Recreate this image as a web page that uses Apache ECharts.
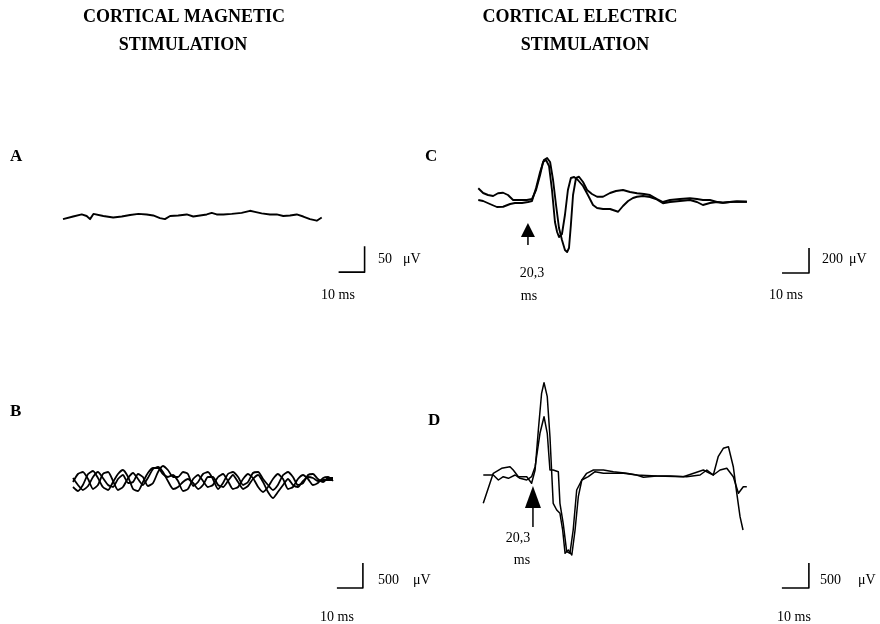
<!DOCTYPE html>
<html><head><meta charset="utf-8">
<script src="https://cdn.jsdelivr.net/npm/echarts/dist/echarts.min.js"></script>
<style>html,body{margin:0;padding:0;background:#fff}#c{width:880px;height:624px}</style>
</head><body><div id="c"></div>
<script>
// ---- Panel A: cortical magnetic, single sweep (ms, µV)
var A_T = [0, 3.9, 7.2, 9.1, 10.4, 11.7, 15.5, 19.3, 22.6, 25.8, 29.0, 32.2, 34.7, 37.3, 39.2, 41.2, 44.3, 47.6, 50.1, 52.7, 55.3, 57.2, 59.1, 61.7, 64.9, 68.7, 71.9, 73.8, 76.4, 79.6, 82.2, 84.7, 87.3, 89.9, 92.4, 95.0, 97.6, 99.5];
var A_V = [-6, -1, 3, 0, -6, 4, 0, -3, -1, 2, 4, 3, 1, -4, -6, 0, 1, 3, -1, 1, 3, 6, 3, 3, 4, 6, 10, 8, 5, 3, 3, 0, 1, 3, -1, -6, -9, -3];

// ---- Panel B: cortical magnetic, three sweeps
var B_T = [0, 1.9, 3.8, 5.8, 7.7, 9.6, 11.5, 13.5, 15.4, 17.3, 19.2, 21.2, 23.1, 25.0, 26.9, 28.8, 30.8, 32.7, 34.6, 36.5, 38.5, 40.4, 42.3, 44.2, 46.2, 48.1, 50.0, 51.9, 53.8, 55.8, 57.7, 59.6, 61.5, 63.5, 65.4, 67.3, 69.2, 71.2, 73.1, 75.0, 76.9, 78.8, 80.8, 82.7, 84.6, 86.5, 88.5, 90.4, 92.3, 94.2, 96.2, 98.1, 100.0];
var B_V1 = [0, 160, 200, 60, -140, -60, 160, 200, 20, -160, -100, 80, 180, 60, -60, 80, 260, 300, 200, 20, -140, -100, 0, 60, -20, -140, -60, 100, 100, -60, -100, 20, 140, 0, -140, -80, 60, 140, 0, -200, -320, -200, -60, 60, -60, -100, 20, 100, 80, 20, 40, 40, 40];
var B_V2 = [-100, -180, -60, 160, 220, 80, -100, -160, 0, 160, 240, 100, -140, -180, 0, 180, 280, 280, 160, 100, 140, 20, -180, -140, 60, 140, 20, -100, -60, 100, 160, 20, -140, -100, 60, 160, 80, -100, -200, -100, 60, 160, 60, -140, -100, 60, 140, 60, -60, -20, 80, 100, 20];
var B_V3 = [80, -60, -160, -80, 100, 200, 80, -60, -100, 60, 140, -20, 0, 160, 100, -80, -20, 200, 320, 240, 100, 100, 200, 160, -80, 0, 160, 200, 60, -140, -20, 160, 200, 100, -60, 0, 180, 200, 60, -60, -160, -60, 140, 200, 100, -60, -20, 140, 160, 60, 0, 80, 80];

// ---- Panel C: cortical electric, two sweeps
var C_T1 = [0.1, 1.9, 3.7, 5.6, 7.4, 9.3, 11.1, 13.0, 15.6, 18.1, 20.0, 21.5, 23.0, 24.1, 25.2, 26.3, 27.4, 28.5, 29.3, 30.0, 31.1, 32.2, 33.3, 34.4, 35.6, 37.0, 38.9, 40.7, 42.6, 44.1, 46.3, 48.9, 51.9, 53.7, 55.6, 57.4, 58.9, 61.1, 63.7, 65.9, 68.5, 71.1, 74.8, 78.5, 81.1, 83.3, 85.9, 88.5, 90.7, 93.3, 95.9, 99.6];
var C_V1 = [118, 80, 64, 56, 78, 82, 64, 24, 24, 24, 32, 104, 224, 328, 344, 296, 104, -152, -232, -272, -248, -96, 104, 200, 208, 184, 136, 64, -16, -40, -48, -48, -70, -24, 16, 40, 50, 56, 48, 32, -2, 8, 16, 24, 8, -16, 0, 8, 2, 8, 12, 10];
var C_T2 = [0.1, 1.9, 4.4, 7.0, 9.3, 11.9, 13.7, 16.3, 18.5, 20.0, 21.5, 23.0, 24.4, 25.6, 26.7, 27.8, 28.9, 30.0, 31.1, 32.2, 33.0, 33.7, 34.4, 35.2, 36.3, 37.4, 38.9, 40.4, 42.2, 44.1, 46.3, 48.9, 51.1, 53.7, 56.3, 58.9, 61.5, 63.7, 66.3, 68.5, 71.1, 74.8, 78.5, 81.1, 83.3, 85.9, 88.5, 90.7, 93.3, 95.9, 99.6];
var C_V2 = [24, 16, -8, -32, -30, -8, 0, 0, 8, 16, 120, 248, 344, 360, 328, 184, -16, -200, -296, -376, -392, -360, -176, 64, 200, 210, 168, 104, 72, 50, 50, 80, 96, 104, 88, 78, 72, 64, 32, 8, 24, 32, 38, 32, 24, 24, 8, 2, 8, 12, 10];

// ---- Panel D: cortical electric, two sweeps
var D_T1 = [0.1, 3.8, 6.9, 10.0, 11.2, 13.1, 16.2, 18.0, 19.3, 20.5, 21.7, 22.6, 23.8, 24.8, 25.4, 26.0, 27.3, 28.5, 29.5, 30.4, 31.6, 32.9, 34.1, 35.3, 36.6, 38.4, 40.9, 44.6, 48.3, 53.2, 56.9, 59.4, 64.3, 69.3, 75.4, 80.4, 82.9, 85.3, 87.1, 89.0, 90.9, 92.7, 94.0, 95.2, 96.3];
var D_V1 = [-546, 54, 154, 186, 120, -14, -14, -146, 120, 920, 1654, 1866, 1586, 786, 120, -546, -680, -746, -1080, -1546, -1480, -1580, -1080, -414, -80, 54, 120, 120, 86, 54, 20, -26, 0, 0, -14, 20, 120, 20, 386, 554, 586, 186, -346, -814, -1080];
var D_T2 = [0.1, 3.8, 5.7, 7.5, 9.4, 11.9, 13.7, 16.2, 18.0, 19.3, 21.1, 22.6, 23.8, 24.8, 26.0, 27.9, 28.5, 29.7, 31.0, 32.2, 33.4, 34.7, 36.6, 39.0, 41.5, 44.6, 48.3, 52.0, 56.9, 64.3, 74.2, 81.6, 85.3, 87.8, 90.3, 92.7, 94.6, 96.4, 97.7];
var D_V2 = [20, 20, -80, -14, -46, 20, -46, -80, -14, 186, 854, 1186, 854, 120, 120, 86, -546, -946, -1514, -1546, -1080, -280, -80, -14, 86, 54, 54, 54, 20, 0, -14, 120, 20, 120, 154, -14, -346, -214, -214];

// ---- Calibration bars and labels
var SCALE_MS = 10;
var SCALE_UV_A = 50, SCALE_UV_B = 500, SCALE_UV_C = 200, SCALE_UV_D = 500;
var LATENCY_LABEL = '20,3';
var ARROW_T = 18.5;

function pairs(t, v) { return t.map(function (x, i) { return [x, v[i]]; }); }
function bar(o, uv) { return [[o[0], o[1]], [o[0] + SCALE_MS, o[1]], [o[0] + SCALE_MS, o[1] + uv]]; }

var grids = [
  { left: 63, top: 190, width: 312, height: 104 },   // A
  { left: 73, top: 440, width: 312, height: 160 },   // B
  { left: 478, top: 150, width: 337.5, height: 150 },// C
  { left: 483, top: 360, width: 337.5, height: 240 } // D
];
var xr = [[0, 120], [0, 120], [0, 125], [0, 125]];
var yr = [[-150, 50], [-2360, 840], [-776, 424], [-2480, 2320]];

var xAxis = xr.map(function (r, i) { return { type: 'value', gridIndex: i, min: r[0], max: r[1], show: false }; });
var yAxis = yr.map(function (r, i) { return { type: 'value', gridIndex: i, min: r[0], max: r[1], show: false }; });

function trace(gi, data, w, smooth) {
  return { type: 'line', xAxisIndex: gi, yAxisIndex: gi, data: data, symbol: 'none', clip: false, smooth: smooth || false,
    lineStyle: { color: '#000', width: w || 1.8, join: 'round' }, silent: true, animation: false };
}
function arrowHead(gi, pt, size) {
  return { type: 'scatter', xAxisIndex: gi, yAxisIndex: gi, data: [pt], symbol: 'triangle', symbolSize: size,
    itemStyle: { color: '#000', opacity: 1 }, silent: true, animation: false, clip: false };
}

var series = [
  trace(0, pairs(A_T, A_V), 1.9),
  trace(1, pairs(B_T, B_V1), 1.8, 0.2),
  trace(1, pairs(B_T, B_V2), 1.8, 0.2),
  trace(1, pairs(B_T, B_V3), 1.8, 0.2),
  trace(2, pairs(C_T1, C_V1), 1.9),
  trace(2, pairs(C_T2, C_V2), 1.9),
  trace(3, pairs(D_T1, D_V1), 1.5),
  trace(3, pairs(D_T2, D_V2), 1.5),
  trace(0, bar([106, -108], SCALE_UV_A), 1.6),
  trace(1, bar([101.5, -2120], SCALE_UV_B), 1.6),
  trace(2, bar([112.6, -560], SCALE_UV_C), 1.6),
  trace(3, bar([110.7, -2240], SCALE_UV_D), 1.6),
  trace(2, [[ARROW_T, -336], [ARROW_T, -270]], 1.5),
  arrowHead(2, [ARROW_T, -216], [14, 14]),
  trace(3, [[ARROW_T, -1020], [ARROW_T, -640]], 1.5),
  arrowHead(3, [ARROW_T, -420], [16, 22])
];

var serif = '"Liberation Serif", "Times New Roman", serif';
function txt(s, x, y, size, bold, align) {
  return { type: 'text', silent: true, style: { text: s, x: x, y: y, fill: '#000',
    font: (bold ? 'bold ' : '') + size + 'px ' + serif, textAlign: align || 'left', textVerticalAlign: 'middle' } };
}

var graphic = [
  txt('CORTICAL MAGNETIC', 184, 17, 18, true, 'center'),
  txt('STIMULATION', 183, 45, 18, true, 'center'),
  txt('CORTICAL ELECTRIC', 580, 17, 18, true, 'center'),
  txt('STIMULATION', 585, 45, 18, true, 'center'),
  txt('A', 10, 157, 17, true),
  txt('B', 10, 412, 17, true),
  txt('C', 425, 157, 17, true),
  txt('D', 428, 421, 17, true),
  txt(String(SCALE_UV_A), 378, 259, 14), txt('μV', 403, 259, 14),
  txt(SCALE_MS + ' ms', 321, 295, 14),
  txt(String(SCALE_UV_C), 822, 259, 14), txt('μV', 849, 259, 14),
  txt(SCALE_MS + ' ms', 769, 295, 14),
  txt(String(SCALE_UV_B), 378, 580, 14), txt('μV', 413, 580, 14),
  txt(SCALE_MS + ' ms', 320, 617, 14),
  txt(String(SCALE_UV_D), 820, 580, 14), txt('μV', 858, 580, 14),
  txt(SCALE_MS + ' ms', 777, 617, 14),
  txt(LATENCY_LABEL, 532, 273, 14, false, 'center'),
  txt('ms', 529, 296, 14, false, 'center'),
  txt(LATENCY_LABEL, 518, 538, 14, false, 'center'),
  txt('ms', 522, 560, 14, false, 'center')
];

var chart = echarts.init(document.getElementById('c'), null, { renderer: 'canvas' });
chart.setOption({ animation: false, backgroundColor: '#fff', grid: grids, xAxis: xAxis, yAxis: yAxis, series: series, graphic: graphic });
</script></body></html>
